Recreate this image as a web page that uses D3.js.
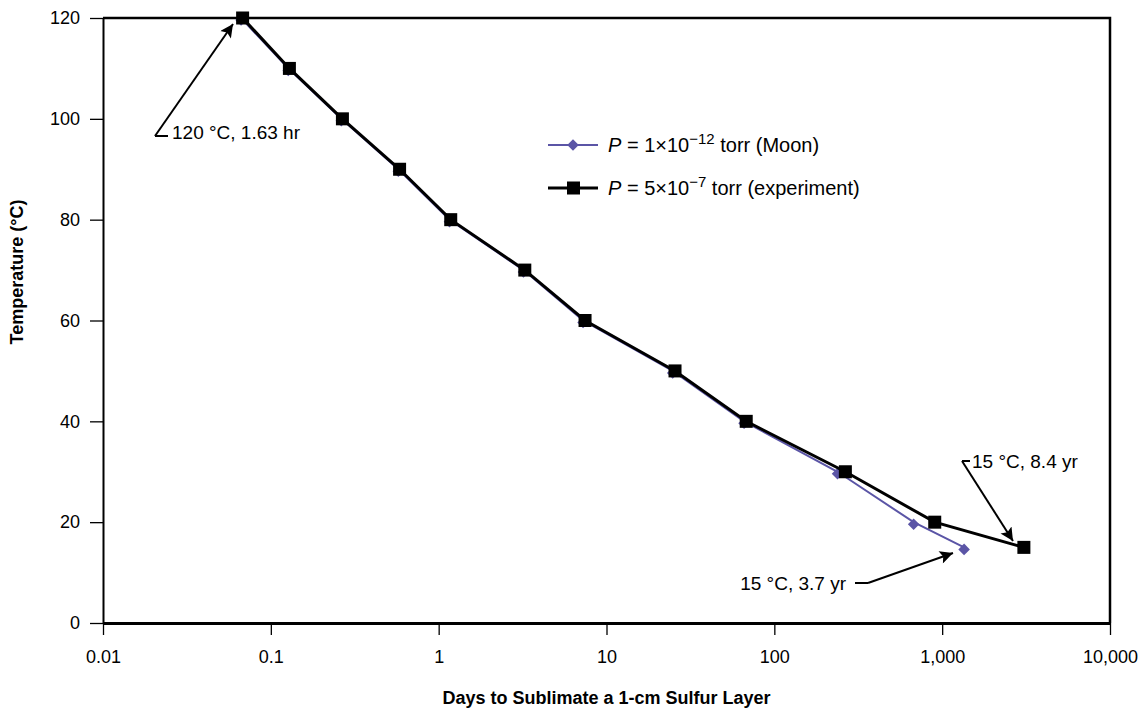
<!DOCTYPE html>
<html>
<head>
<meta charset="utf-8">
<script src="https://cdn.jsdelivr.net/npm/d3@7"></script>
<style>
  body { margin: 0; background: #fff; }
  svg text { font-family: "Liberation Sans", Arial, sans-serif; }
</style>
</head>
<body>
<svg id="chart" width="1144" height="713"></svg>
<script>
const temps = [120, 110, 100, 90, 80, 70, 60, 50, 40, 30, 20, 15];
const daysExperiment = [0.0679, 0.129, 0.267, 0.585, 1.18, 3.26, 7.45, 25.6, 68, 265, 903, 3068];
const daysMoon = [0.0665, 0.127, 0.263, 0.575, 1.16, 3.2, 7.25, 24.8, 66, 238, 676, 1351];
const xTicks = [0.01, 0.1, 1, 10, 100, 1000, 10000];
const yTicks = [0, 20, 40, 60, 80, 100, 120];

const svg = d3.select("#chart");
const plotLeft = 103, plotRight = 1110, plotTop = 18, plotBottom = 623;

const x = d3.scaleLog().domain([0.01, 10000]).range([plotLeft, plotRight]);
const y = d3.scaleLinear().domain([0, 120]).range([plotBottom, plotTop]);

// frame (top and right)
svg.append("path")
    .attr("d", `M${plotLeft},${plotTop}H${plotRight}V${plotBottom}`)
    .attr("fill", "none")
    .attr("stroke", "#000")
    .attr("stroke-width", 2.5);

// x axis
const xAxis = svg.append("g")
    .attr("transform", `translate(0,${plotBottom})`)
    .call(d3.axisBottom(x)
        .tickValues(xTicks)
        .tickSize(12)
        .tickSizeOuter(0)
        .tickPadding(15)
        .tickFormat(d => d >= 1 ? d3.format(",")(d) : String(d)));
xAxis.select(".domain").attr("stroke-width", 3);
xAxis.selectAll(".tick line").attr("stroke-width", 1.3);
xAxis.selectAll("text").attr("font-size", 18).attr("fill", "#000");

// y axis
const yAxis = svg.append("g")
    .attr("transform", `translate(${plotLeft},0)`)
    .call(d3.axisLeft(y)
        .tickValues(yTicks)
        .tickSize(13)
        .tickSizeOuter(0)
        .tickPadding(10));
yAxis.select(".domain").attr("stroke-width", 2);
yAxis.selectAll(".tick line").attr("stroke-width", 1.3);
yAxis.selectAll("text").attr("font-size", 18).attr("fill", "#000");

// axis titles
svg.append("text")
    .attr("x", (plotLeft + plotRight) / 2)
    .attr("y", 704)
    .attr("text-anchor", "middle")
    .attr("font-size", 18)
    .attr("font-weight", "bold")
    .text("Days to Sublimate a 1-cm Sulfur Layer");

svg.append("text")
    .attr("transform", "translate(23,272) rotate(-90)")
    .attr("text-anchor", "middle")
    .attr("font-size", 18)
    .attr("font-weight", "bold")
    .text("Temperature (°C)");

// series
const moonColor = "#5b55a6";
const line = d3.line().x(d => x(d[0])).y(d => y(d[1]));
const moon = daysMoon.map((d, i) => [d, temps[i]]);
const expt = daysExperiment.map((d, i) => [d, temps[i]]);

svg.append("path").datum(moon)
    .attr("d", line).attr("fill", "none")
    .attr("stroke", moonColor).attr("stroke-width", 2);
svg.selectAll(".moon").data(moon).join("path")
    .attr("class", "moon")
    .attr("transform", d => `translate(${x(d[0])},${y(d[1]) + 2})`)
    .attr("d", d3.symbol(d3.symbolDiamond2, 85))
    .attr("fill", moonColor);

svg.append("path").datum(expt)
    .attr("d", line).attr("fill", "none")
    .attr("stroke", "#000").attr("stroke-width", 3);
svg.selectAll(".expt").data(expt).join("rect")
    .attr("class", "expt")
    .attr("x", d => x(d[0]) - 6.5).attr("y", d => y(d[1]) - 6.5)
    .attr("width", 13).attr("height", 13)
    .attr("fill", "#000");

// legend
const legend = svg.append("g").attr("transform", "translate(548,145)");
const rows = [
    { exp: "−12", rest: " torr (Moon)", base: "1", color: moonColor, mark: "diamond" },
    { exp: "−7", rest: " torr (experiment)", base: "5", color: "#000", mark: "square" }
];
rows.forEach((r, i) => {
    const g = legend.append("g").attr("transform", `translate(0,${i * 43})`);
    g.append("line").attr("x1", 0).attr("x2", 50)
        .attr("stroke", r.color).attr("stroke-width", r.mark === "square" ? 3 : 2);
    if (r.mark === "square") {
        g.append("rect").attr("x", 19).attr("y", -6.5).attr("width", 13).attr("height", 13).attr("fill", "#000");
    } else {
        g.append("path").attr("transform", "translate(25,0)")
            .attr("d", d3.symbol(d3.symbolDiamond2, 85)).attr("fill", r.color);
    }
    const t = g.append("text").attr("x", 60).attr("y", 7).attr("font-size", 20).attr("fill", "#000");
    t.append("tspan").attr("font-style", "italic").text("P");
    t.append("tspan").text(` = ${r.base}×10`);
    t.append("tspan").attr("font-size", 15).attr("dy", -8).text(r.exp);
    t.append("tspan").attr("dy", 8).text(r.rest);
});

// annotations
svg.append("defs").append("marker")
    .attr("id", "arrow")
    .attr("viewBox", "0 0 10 10")
    .attr("refX", 10).attr("refY", 5)
    .attr("markerUnits", "userSpaceOnUse")
    .attr("markerWidth", 20).attr("markerHeight", 13)
    .attr("orient", "auto")
    .append("path").attr("d", "M0,0L10,5L0,10L2,5z").attr("fill", "#000");

const notes = [
    { text: "120 °C, 1.63 hr", tx: 172, ty: 139, anchor: "start", corner: [155, 136], barEnd: 168, tip: [233, 24] },
    { text: "15 °C, 8.4 yr", tx: 972, ty: 468, anchor: "start", corner: [962, 461], barEnd: 970, tip: [1013, 541] },
    { text: "15 °C, 3.7 yr", tx: 846, ty: 590, anchor: "end", corner: [855, 583], barEnd: 868, tip: [953, 553] }
];
notes.forEach(n => {
    svg.append("line")
        .attr("x1", n.corner[0]).attr("y1", n.corner[1])
        .attr("x2", n.barEnd).attr("y2", n.corner[1])
        .attr("stroke", "#000").attr("stroke-width", 2);
    svg.append("line")
        .attr("x1", n.anchor === "end" ? n.barEnd : n.corner[0]).attr("y1", n.corner[1])
        .attr("x2", n.tip[0]).attr("y2", n.tip[1])
        .attr("stroke", "#000").attr("stroke-width", 2)
        .attr("marker-end", "url(#arrow)");
    svg.append("text")
        .attr("x", n.tx).attr("y", n.ty)
        .attr("text-anchor", n.anchor)
        .attr("font-size", 19).attr("fill", "#000")
        .text(n.text);
});
</script>
</body>
</html>
